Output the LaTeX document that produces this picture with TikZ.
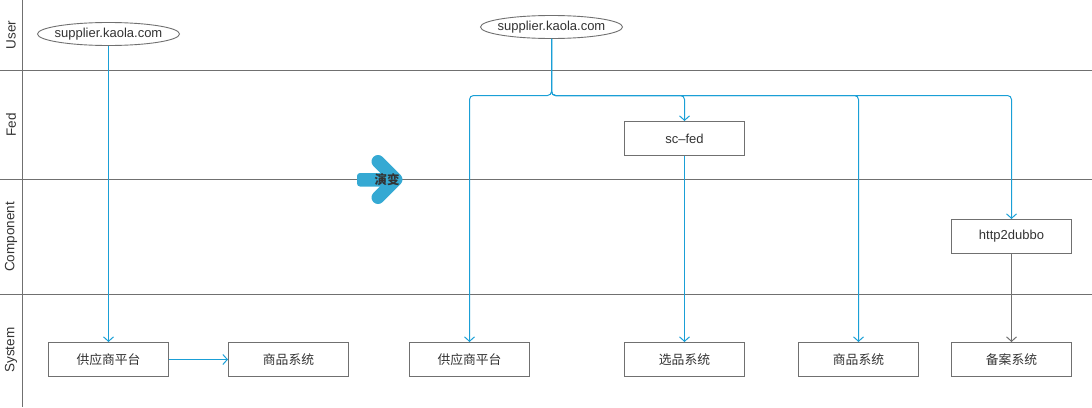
\documentclass[tikz,border=0pt]{standalone}
\usepackage{fontspec}
\setmainfont{Liberation Sans}
\newfontfamily\cjk{Noto Sans CJK SC}
\usetikzlibrary{arrows.meta,shapes.geometric}
\definecolor{lane}{HTML}{707070}
\definecolor{flowc}{HTML}{1A9FD6}
\definecolor{txt}{HTML}{333333}
\definecolor{arr}{HTML}{35A9D3}
\tikzset{
  x=1pt,y=-1pt,
  lanel/.style={draw=lane,line width=1pt},
  lanelabel/.style={rotate=90,font=\fontsize{13.5}{15}\selectfont,text=txt},
  sysbox/.style={draw=lane,line width=1pt,minimum width=120pt,minimum height=34pt,inner sep=0pt,font=\cjk\fontsize{12.8}{14}\selectfont,text=txt},
  latbox/.style={sysbox,font=\fontsize{13}{14}\selectfont},
  site/.style={ellipse,draw=lane,line width=0.9pt,minimum width=142pt,minimum height=23pt,inner xsep=-6pt,inner ysep=1pt,font=\fontsize{13}{14}\selectfont,text=txt},
  flow/.style={draw=flowc,line width=1pt,rounded corners=4pt,-{Straight Barb[length=4.5pt,width=10pt]}},
  gflow/.style={flow,draw=lane}
}
\begin{document}
\begin{tikzpicture}
\useasboundingbox (0,0) rectangle (1092,407);
% lanes
\draw[lanel] (22.5,0) -- (22.5,407);
\draw[lanel] (0,70.5) -- (1092,70.5);
\draw[lanel] (0,179.5) -- (1092,179.5);
\draw[lanel] (0,294.5) -- (1092,294.5);
\node[lanelabel] (lu) at (11,35) {User};
\node[lanelabel] (lf) at (11,125) {Fed};
\node[lanelabel] (lc) at (11,237) {Component};
\node[lanelabel] (ls) at (11,350) {System};
% left part
\node[site] (e1) at (108.5,34) {supplier.kaola.com};
\node[sysbox] (p1) at (108.5,359.5) {供应商平台};
\node[sysbox] (g1) at (288.5,359.5) {商品系统};
\draw[flow] (e1.south) -- (p1.north);
\draw[flow] (p1.east) -- (g1.west);
% arrow
\draw[arr,line width=13pt,line cap=round,line join=round] (378,161.5) -- (396,179.5) -- (378,197.5);
\fill[arr,rounded corners=3pt] (357,173) rectangle (393,186.5);
\node[font=\cjk\bfseries\fontsize{12.5}{14}\selectfont,text=txt] (ev) at (387,180) {演变};
% right part
\node[site] (e2) at (551.5,27) {supplier.kaola.com};
\coordinate (j) at (551.5,95.5);
\node[latbox] (sc) at (684.5,138.5) {sc–fed};
\node[latbox] (hd) at (1011.5,236.5) {http2dubbo};
\node[sysbox] (p2) at (469.5,359.5) {供应商平台};
\node[sysbox] (x2) at (684.5,359.5) {选品系统};
\node[sysbox] (g2) at (858.5,359.5) {商品系统};
\node[sysbox] (b2) at (1011.5,359.5) {备案系统};
\draw[flow] (e2.south) -- (j) -| (p2.north);
\draw[flow] (e2.south) -- (j) -| (sc.north);
\draw[flow] (e2.south) -- (j) -| (g2.north);
\draw[flow] (e2.south) -- (j) -| (hd.north);
\draw[flow] (sc.south) -- (x2.north);
\draw[gflow] (hd.south) -- (b2.north);
\end{tikzpicture}
\end{document}
